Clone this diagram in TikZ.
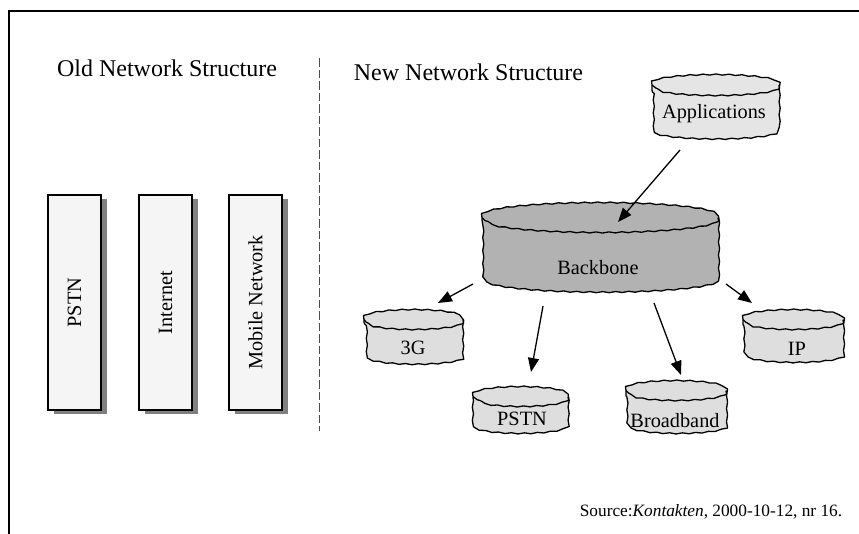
\documentclass[tikz,border=0pt]{standalone}
\usepackage{fontspec}
\setmainfont{Liberation Serif}
\usepackage{graphicx}
\usetikzlibrary{arrows.meta,calc,decorations.pathmorphing,shadows}

\tikzset{
  frameline/.style={line width=2.2pt, black},
  divider/.style={line width=1pt, black!70, dash pattern=on 8.5pt off 3pt},
  oldbox/.style={draw, line width=1.4pt, fill=black!4, minimum width=53pt,
    minimum height=215pt, inner sep=0pt,
    drop shadow={shadow xshift=6pt, shadow yshift=-4pt, fill=black!50, opacity=1}},
  drumline/.style={line width=1.3pt, line join=round, decorate,
    decoration={snake, segment length=13pt, amplitude=0.55pt}},
  nodetext/.style={font=\fontsize{20.3}{24}\selectfont, inner sep=0pt, anchor=base},
  heading/.style={font=\fontsize{24}{28}\selectfont, inner sep=0pt, anchor=base},
  srctext/.style={font=\fontsize{17.3}{20}\selectfont, inner sep=0pt, anchor=base},
  arr/.style={line width=1.3pt, -{Triangle[length=14pt, width=11pt]}},
}

% Wavy database drum: left, right, top, bottom (measured downwards), end radius, fill
\newcommand\drum[6]{%
  \pgfmathsetmacro\drumrx{(#2-#1)/2}%
  \filldraw[drumline, fill=#6] (#1,-#3-#5)
    arc[start angle=180, end angle=0, x radius=\drumrx, y radius=#5]
    -- (#2,-#4+#5)
    arc[start angle=0, end angle=-180, x radius=\drumrx, y radius=#5]
    -- cycle;
  \draw[drumline] (#2,-#3-#5)
    arc[start angle=0, end angle=-180, x radius=\drumrx, y radius=#5];
}

\begin{document}
\begin{tikzpicture}[x=1pt, y=1pt]
\useasboundingbox (0,0) rectangle (859,-533);

% outer frame (open towards the bottom and the right)
\draw[frameline] (8.7,-540) -- (8.7,-11) -- (866,-11);

% divider between the two halves
\draw[divider] (319.3,-58) -- (319.3,-431);

% headings
\node[heading] (oldtitle) at (167,-76) {Old Network Structure};
\node[heading] (newtitle) at (468.5,-80) {New Network Structure};

% old structure: three separate vertical networks
\node[oldbox] (oldpstn) at (74.5,-302.5) {\rotatebox{90}{\fontsize{20.3}{24}\selectfont PSTN}};
\node[oldbox] (oldinet) at (165.5,-302.5) {\rotatebox{90}{\fontsize{20.3}{24}\selectfont Internet}};
\node[oldbox] (oldmob) at (255.5,-302.5) {\rotatebox{90}{\fontsize{20.3}{24}\selectfont Mobile Network}};

% new structure: drums
\drum{652}{779}{77}{142}{8}{black!10}
\drum{482}{718}{205}{294}{12.5}{black!30}
\drum{364}{463}{312}{366}{7.5}{black!13}
\drum{473}{568}{389}{437}{7.5}{black!13}
\drum{626}{726}{383}{437}{7.5}{black!13}
\drum{743}{843}{312}{366}{7.5}{black!13}

\node[nodetext] (app) at (714,-118) {Applications};
\node[nodetext] (bb) at (598,-274) {Backbone};
\node[nodetext] (g3) at (413,-354) {3G};
\node[nodetext] (pstn) at (522,-425) {PSTN};
\node[nodetext] (bband) at (675,-427) {Broadband};
\node[nodetext] (ip) at (797,-355) {IP};

% connectors
\draw[arr] ($(app.base)+(-34,-32)$) -- ($(bb.base)+(20,52)$);
\draw[arr] ($(bb.base)+(-125,-10)$) -- ($(g3.base)+(25,51)$);
\draw[arr] ($(bb.base)+(-55,-32)$) -- ($(pstn.base)+(9,53)$);
\draw[arr] ($(bb.base)+(56,-29)$) -- ($(bband.base)+(6,52)$);
\draw[arr] ($(bb.base)+(128,-10)$) -- ($(ip.base)+(-45,52)$);

% source line
\node[srctext] (src) at (711,-516) {Source:\textit{Kontakten}, 2000-10-12, nr 16.};
\end{tikzpicture}
\end{document}
